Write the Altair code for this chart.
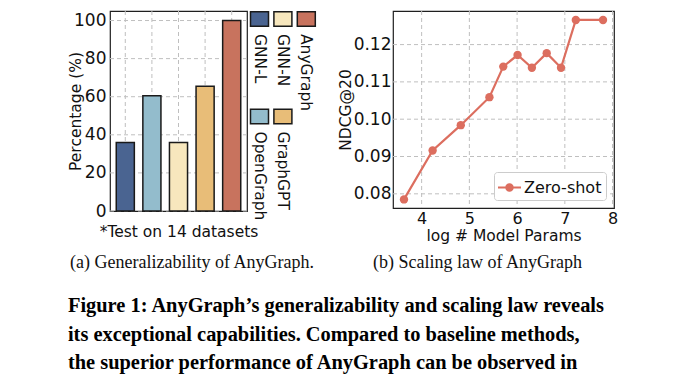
import altair as alt
import pandas as pd

# ---------------- data ----------------
methods = ["GNN-L", "OpenGraph", "GNN-N", "GraphGPT", "AnyGraph"]
percentages = [36, 60.5, 36, 65.5, 100]
bar_colors = ["#4a6491", "#93bccc", "#f7e7bd", "#e8bd78", "#c8735e"]
pct_ticks = [0, 20, 40, 60, 80, 100]

log_params = [3.63, 4.23, 4.82, 5.42, 5.71, 6.01, 6.31, 6.62, 6.92, 7.23, 7.80]
ndcg = [0.0785, 0.0916, 0.0984, 0.1059, 0.1141, 0.1172, 0.1138, 0.1177, 0.1138, 0.1266, 0.1266]
x_ticks = [4, 5, 6, 7, 8]
y_ticks = [0.08, 0.09, 0.10, 0.11, 0.12]
series_name = "Zero-shot"

sub_captions = ["(a)  Generalizability of AnyGraph.", "(b)  Scaling law of AnyGraph"]
fig_caption = [
    "Figure 1: AnyGraph\u2019s generalizability and scaling law reveals",
    "its exceptional capabilities. Compared to baseline methods,",
    "the superior performance of AnyGraph can be observed in",
]

SANS = "DejaVu Sans"
SERIF = "Liberation Serif"
CORAL = "#dc6e5f"
INK = "#111111"
GRID = dict(color="#bfbfbf", strokeWidth=1, strokeDash=[4, 3])
SUB = dict(orient="bottom", anchor="start", frame="group", font=SERIF, fontSize=18,
           fontWeight="normal", color=INK)

# ---------------- (a) bars ----------------
bar_df = pd.DataFrame({"method": methods, "pct": percentages})
pct_df = pd.DataFrame({"pct": pct_ticks})

ax_x = alt.Axis(title="*Test on 14 datasets", labels=False, ticks=False,
                domain=False, grid=False, titlePadding=13)
ax_y = alt.Axis(values=pct_ticks, title="Percentage (%)", ticks=False,
                domain=False, grid=False, labelPadding=4, titlePadding=-10)
sc_x = alt.Scale(paddingInner=0.32, paddingOuter=0.235)
sc_y = alt.Scale(domain=[0, 105], nice=False)

vgrid = alt.Chart(bar_df).mark_rule(**GRID).encode(
    x=alt.X("method:N", sort=methods, scale=sc_x, axis=ax_x))
hgrid = alt.Chart(pct_df).mark_rule(**GRID).encode(
    y=alt.Y("pct:Q", scale=sc_y, axis=ax_y))
bar_marks = alt.Chart(bar_df).mark_bar(stroke="#1a1a1a", strokeWidth=1.5, opacity=1).encode(
    x=alt.X("method:N", sort=methods, scale=sc_x, axis=ax_x),
    y=alt.Y("pct:Q", scale=sc_y, axis=ax_y),
    color=alt.Color("method:N", sort=methods,
                    scale=alt.Scale(domain=methods, range=bar_colors), legend=None),
)
bars = alt.layer(vgrid, hgrid, bar_marks).properties(
    width=137, height=200, title=alt.Title(sub_captions[0], dx=-40, offset=14, **SUB))

# manual rotated legend (matplotlib style, 3 columns filled column-wise)
leg_df = pd.DataFrame({
    "method": methods,
    "col": [i // 2 for i in range(len(methods))],
    "row": [i % 2 for i in range(len(methods))],
})
leg_x = alt.X("col:Q", scale=alt.Scale(domain=[0, 2], range=[9.5, 56.3]), axis=None)
leg_y = alt.Y("row:Q", scale=alt.Scale(domain=[0, 1], range=[8, 105.5]), axis=None)
swatches = alt.Chart(leg_df).mark_point(
    shape="M-1,-0.8H1V0.8H-1Z", size=324, filled=True, opacity=1,
    stroke="#1a1a1a", strokeWidth=1.5,
).encode(
    x=leg_x, y=leg_y,
    color=alt.Color("method:N", scale=alt.Scale(domain=methods, range=bar_colors), legend=None),
)
leg_text = alt.Chart(leg_df).mark_text(
    angle=90, align="left", baseline="middle", dx=15, font=SANS, fontSize=15.5, color=INK,
).encode(x=leg_x, y=leg_y, text="method:N")
legend_chart = alt.layer(swatches, leg_text).properties(
    width=140, height=200, view=alt.ViewBackground(stroke="transparent"))

# ---------------- (b) scaling law ----------------
line_df = pd.DataFrame({"logp": log_params, "ndcg": ndcg, "series": [series_name] * len(ndcg)})
xt_df = pd.DataFrame({"logp": x_ticks})
yt_df = pd.DataFrame({"ndcg": y_ticks})
ax_lx = alt.Axis(values=x_ticks, format="d", title="log # Model Params",
                 grid=False, labelFontSize=16, labelPadding=2, titlePadding=2)
ax_ly = alt.Axis(values=y_ticks, format=".2f", title="NDCG@20",
                 grid=False, labelPadding=2, titlePadding=0)
sc_lx = alt.Scale(domain=[3.40, 8.03], nice=False, zero=False)
sc_ly = alt.Scale(domain=[0.0762, 0.1290], nice=False, zero=False)
lx = alt.X("logp:Q", scale=sc_lx, axis=ax_lx)
ly = alt.Y("ndcg:Q", scale=sc_ly, axis=ax_ly)

rx = alt.Chart(xt_df).mark_rule(**GRID).encode(x=lx)
ry = alt.Chart(yt_df).mark_rule(**GRID).encode(y=ly)
line = alt.Chart(line_df).mark_line(color=CORAL, strokeWidth=2.2).encode(x=lx, y=ly)
pts = alt.Chart(line_df).mark_point(filled=True, size=70, opacity=1).encode(
    x=lx, y=ly,
    color=alt.Color("series:N", scale=alt.Scale(domain=[series_name], range=[CORAL]),
                    legend=alt.Legend(
                        title=None, orient="bottom-right", offset=8,
                        symbolType="M-1,-0.09H1V0.09H-1ZM0.37,0A0.37,0.37,0,1,1,-0.37,0A0.37,0.37,0,1,1,0.37,0Z",
                        symbolSize=529, symbolStrokeWidth=0, symbolOpacity=1,
                        labelFont=SANS, labelFontSize=16, labelColor=INK, labelOffset=3,
                        strokeColor="#cccccc", fillColor="white", padding=4, cornerRadius=3,
                    )),
)
right = alt.layer(rx, ry, line, pts).properties(
    width=221, height=197, title=alt.Title(sub_captions[1], dx=-20, offset=10, **SUB))

chart = alt.hconcat(bars, legend_chart, right, spacing=3, bounds="flush").resolve_scale(
    color="independent"
).properties(
    padding={"left": 59, "top": 0, "right": 4, "bottom": 0},
    title=alt.Title(fig_caption, orient="bottom", anchor="start", frame="bounds",
                    font=SERIF, fontSize=20.4, fontWeight="bold", lineHeight=28.5,
                    offset=24, color="#000000"),
).configure_view(
    stroke="#1f1f1f", strokeWidth=1.2,
).configure_axis(
    labelFont=SANS, labelFontSize=17, labelColor=INK,
    titleFont=SANS, titleFontSize=15.5, titleFontWeight="normal", titleColor=INK,
    ticks=False, domain=False,
)

chart.save("out.html", embed_options={"renderer": "svg", "actions": False})
